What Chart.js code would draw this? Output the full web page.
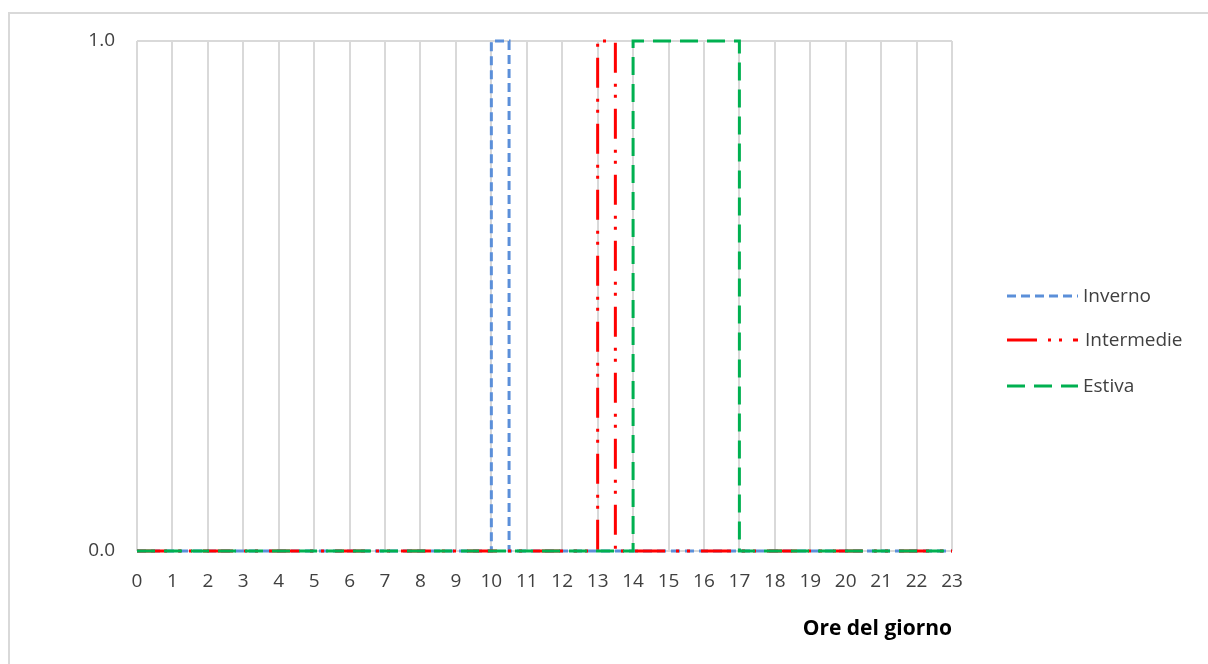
<!DOCTYPE html>
<html>
<head>
<meta charset="utf-8">
<script src="https://cdn.jsdelivr.net/npm/chart.js@4.4.1/dist/chart.umd.min.js"></script>
<style>
  html, body { margin: 0; padding: 0; background: #fff; overflow: hidden; }
  #wrap { position: relative; width: 1208px; height: 664px; }
  #cornice { position: absolute; left: 8px; top: 12px; width: 1400px; height: 900px;
             border: 2px solid #d9d9d9; pointer-events: none; }
</style>
</head>
<body>
<div id="wrap">
  <canvas id="grafico" width="1208" height="664"></canvas>
  <div id="cornice"></div>
</div>
<script>
// ore del giorno (etichette asse x)
var ore = [0, 1, 2, 3, 4, 5, 6, 7, 8, 9, 10, 11, 12, 13, 14, 15, 16, 17, 18, 19, 20, 21, 22, 23];

// profili a gradino: istanti di cambio e valore da quell'istante in poi
var invernoOre = [0, 10, 10.5, 23];
var invernoVal = [0, 1, 0, 0];
var intermedieOre = [0, 13, 13.5, 23];
var intermedieVal = [0, 1, 0, 0];
var estivaOre = [0, 14, 17, 23];
var estivaVal = [0, 1, 0, 0];

var yTicks = [0, 1];

function punti(xs, ys) {
    return xs.map(function (x, i) { return { x: x, y: ys[i] }; });
}

var FONT = "'Open Sans', 'DejaVu Sans', sans-serif";

// legenda disegnata a mano a destra del grafico
var legendaDestra = {
    id: 'legendaDestra',
    afterDraw: function (chart) {
        var ctx = chart.ctx;
        var x0 = chart.chartArea.right + 55;
        var righe = [296, 340, 386];
        var testoX = [1083, 1085, 1083];
        chart.data.datasets.forEach(function (ds, i) {
            var y = righe[i];
            ctx.save();
            ctx.strokeStyle = ds.borderColor;
            ctx.lineWidth = ds.borderWidth;
            ctx.setLineDash(ds.borderDash);
            ctx.beginPath();
            ctx.moveTo(x0, y);
            ctx.lineTo(x0 + 71, y);
            ctx.stroke();
            ctx.setLineDash([]);
            ctx.fillStyle = '#404040';
            ctx.font = '19px ' + FONT;
            ctx.textBaseline = 'middle';
            ctx.textAlign = 'left';
            ctx.fillText(ds.label, testoX[i], y + 1);
            ctx.restore();
        });
    }
};

var ctx = document.getElementById('grafico').getContext('2d');
new Chart(ctx, {
    type: 'line',
    data: {
        datasets: [{
            label: 'Inverno',
            data: punti(invernoOre, invernoVal),
            borderColor: '#5b8fd9',
            borderWidth: 3,
            borderDash: [9, 5],
            stepped: 'before',
            pointRadius: 0,
            clip: false,
            order: 2
        }, {
            label: 'Intermedie',
            data: punti(intermedieOre, intermedieVal),
            borderColor: '#ff0000',
            borderWidth: 3,
            borderDash: [30, 11, 3, 8, 3, 11],
            stepped: 'before',
            pointRadius: 0,
            clip: false,
            order: 1
        }, {
            label: 'Estiva',
            data: punti(estivaOre, estivaVal),
            borderColor: '#00b050',
            borderWidth: 3,
            borderDash: [18, 9],
            stepped: 'before',
            pointRadius: 0,
            clip: false,
            order: 0
        }]
    },
    options: {
        responsive: false,
        animation: false,
        layout: { padding: { left: 0, right: 256, top: 41, bottom: 0 } },
        plugins: {
            legend: { display: false },
            tooltip: { enabled: false }
        },
        scales: {
            x: {
                type: 'linear',
                min: ore[0],
                max: ore[ore.length - 1],
                afterBuildTicks: function (scale) {
                    scale.ticks = ore.map(function (h) { return { value: h }; });
                },
                afterFit: function (scale) { scale.height = 113; },
                grid: { color: '#d9d9d9', lineWidth: 2, drawTicks: false },
                border: { display: false },
                ticks: {
                    padding: 19,
                    color: '#404040',
                    font: { family: FONT, size: 19 },
                    maxRotation: 0,
                    autoSkip: false
                },
                title: {
                    display: true,
                    text: 'Ore del giorno',
                    align: 'end',
                    color: '#000',
                    font: { family: FONT, size: 21, weight: 'bold' },
                    padding: { top: 0, bottom: 22 }
                }
            },
            y: {
                min: 0,
                max: 1,
                afterBuildTicks: function (scale) {
                    scale.ticks = yTicks.map(function (v) { return { value: v }; });
                },
                afterFit: function (scale) { scale.width = 137; },
                grid: { color: '#d9d9d9', lineWidth: 2, drawTicks: false },
                border: { display: false },
                ticks: {
                    padding: 22,
                    color: '#404040',
                    font: { family: FONT, size: 19 },
                    callback: function (v) { return Number(v).toFixed(1); }
                }
            }
        }
    },
    plugins: [legendaDestra]
});
</script>
</body>
</html>
